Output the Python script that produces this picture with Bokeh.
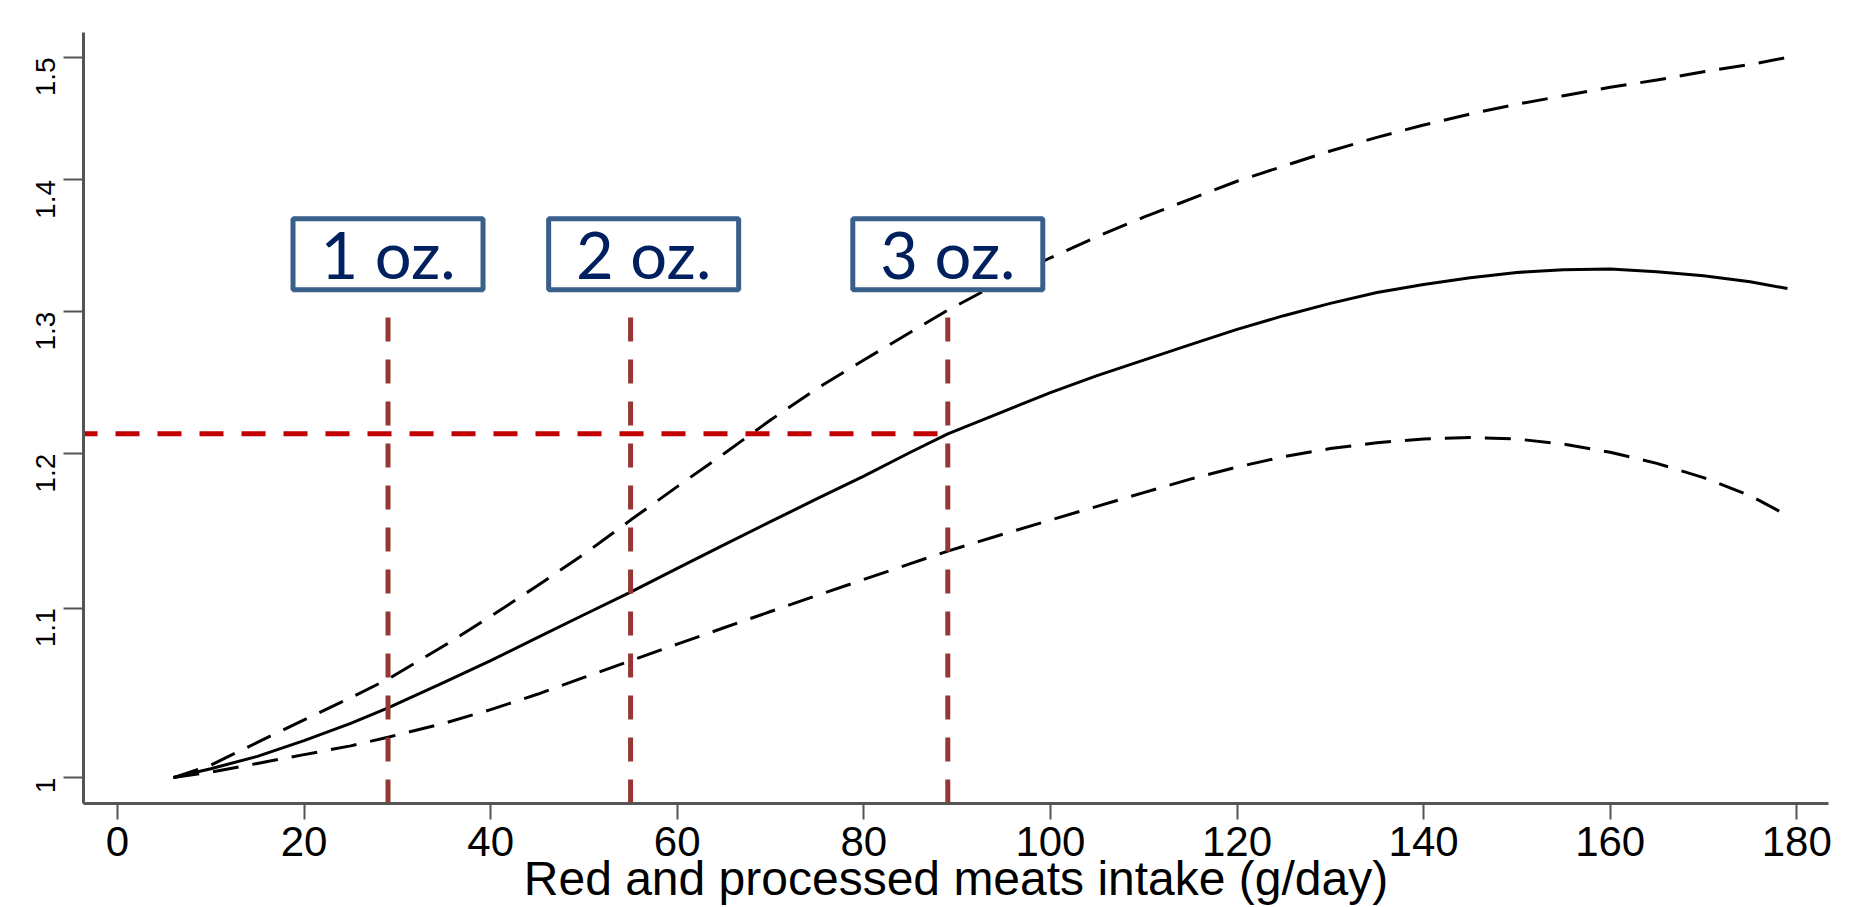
import math
from bokeh.plotting import figure
from bokeh.models import FixedTicker, Range1d
from bokeh.core.properties import value
from bokeh.embed import file_html
from bokeh.resources import INLINE

# ---- data ----
intake = [6, 10, 15, 20, 25, 29, 35, 40, 45, 50, 55, 60, 65, 70, 75, 80, 85, 89,
          95, 100, 105, 110, 115, 120, 125, 130, 135, 140, 145, 150, 155, 160, 165, 170, 175, 179]
rr = [1.000, 1.005, 1.012, 1.021, 1.031, 1.040, 1.055, 1.068, 1.082, 1.096, 1.110, 1.125,
      1.140, 1.155, 1.170, 1.185, 1.201, 1.2135,
      1.229, 1.242, 1.254, 1.265, 1.276, 1.287, 1.297, 1.306, 1.314, 1.320, 1.325, 1.329,
      1.331, 1.3315, 1.3295, 1.3265, 1.322, 1.317]
rr_upper = [1.000, 1.007, 1.020, 1.033, 1.046, 1.057, 1.077, 1.095, 1.114, 1.134, 1.156, 1.178,
            1.200, 1.223, 1.245, 1.265, 1.285, 1.301,
            1.323, 1.340, 1.356, 1.371, 1.385, 1.399, 1.411, 1.423, 1.434, 1.444, 1.453, 1.461,
            1.468, 1.475, 1.481, 1.488, 1.494, 1.500]
rr_lower = [1.000, 1.003, 1.008, 1.013, 1.018, 1.023, 1.031, 1.039, 1.048, 1.058, 1.068, 1.078,
            1.088, 1.098, 1.108, 1.118, 1.128, 1.136,
            1.147, 1.156, 1.165, 1.174, 1.183, 1.191, 1.198, 1.2035, 1.2075, 1.210, 1.211, 1.210,
            1.2065, 1.201, 1.1935, 1.184, 1.172, 1.159]

oz_labels = ["1 oz.", "2 oz.", "3 oz."]
oz_intake = [29, 55, 89]
rr_at_3oz = 1.2135
marker_top = 1.3037

x_ticks = [0, 20, 40, 60, 80, 100, 120, 140, 160, 180]
y_ticks = [1, 1.1, 1.2, 1.3, 1.4, 1.5]
y_tick_labels = ["1", "1.1", "1.2", "1.3", "1.4", "1.5"]
x_title = "Red and processed meats intake (g/day)"

# ---- layout ----
X0, X1 = -3.64, 183.4
Y0, Y1 = 0.9855, 1.5212
box_x = [29, 56.4, 89]
box_y = 1.3427

p = figure(width=1853, height=907, output_backend="svg", toolbar_location=None,
           x_range=Range1d(X0, X1), y_range=Range1d(Y0, Y1), y_axis_type="log",
           min_border_left=83, min_border_right=25, min_border_top=32, min_border_bottom=104)
p.outline_line_color = None
p.xgrid.visible = False
p.ygrid.visible = False
p.background_fill_color = "white"
p.border_fill_color = "white"

axis_col = "#555555"
for ax in (p.xaxis[0], p.yaxis[0]):
    ax.axis_line_color = axis_col
    ax.axis_line_width = 3
    ax.major_tick_line_color = axis_col
    ax.major_tick_line_width = 2
    ax.major_tick_in = 0
    ax.minor_tick_line_color = None
    ax.major_label_text_font = "Liberation Sans"
    ax.major_label_text_color = "black"

p.xaxis.ticker = FixedTicker(ticks=x_ticks)
p.xaxis.major_tick_out = 16
p.xaxis.major_label_text_font_size = "42px"
p.xaxis.major_label_standoff = 7
p.xaxis.axis_label = x_title
p.xaxis.axis_label_text_font = "Liberation Sans"
p.xaxis.axis_label_text_font_size = "48px"
p.xaxis.axis_label_text_font_style = "normal"
p.xaxis.axis_label_text_color = "black"
p.xaxis.axis_label_standoff = -7

p.yaxis.ticker = FixedTicker(ticks=y_ticks)
p.yaxis.major_label_overrides = {t: l for t, l in zip(y_ticks, y_tick_labels)}
p.yaxis.major_tick_out = 20
p.yaxis.major_label_text_font_size = "28px"
p.yaxis.major_label_standoff = 18
p.yaxis.major_label_orientation = math.pi / 2

# curves
p.line(intake, rr_upper, line_color="black", line_width=3, line_dash="26 14")
p.line(intake, rr_lower, line_color="black", line_width=3, line_dash="26 14")
p.line(intake, rr, line_color="black", line_width=3)

# reference lines
p.segment(x0=oz_intake, y0=[Y0] * 3, x1=oz_intake, y1=[marker_top] * 3,
          line_color="#953735", line_width=5, line_dash="24 18")
p.segment(x0=[X0], y0=[rr_at_3oz], x1=[oz_intake[2]], y1=[rr_at_3oz],
          line_color="#C00000", line_width=5, line_dash="24 18", line_dash_offset=10)

# boxes with labels
p.rect(x=box_x, y=[box_y] * 3, width=190, height=71, width_units="screen", height_units="screen",
       fill_color="white", line_color="#3A5F8B", line_width=5)
p.text(x=box_x, y=[box_y] * 3, text=oz_labels, text_font=value("Lato"), text_font_size="65px",
       text_color="#002060", text_align="center", text_baseline="middle")

open("out.html", "w").write(file_html(p, INLINE))
